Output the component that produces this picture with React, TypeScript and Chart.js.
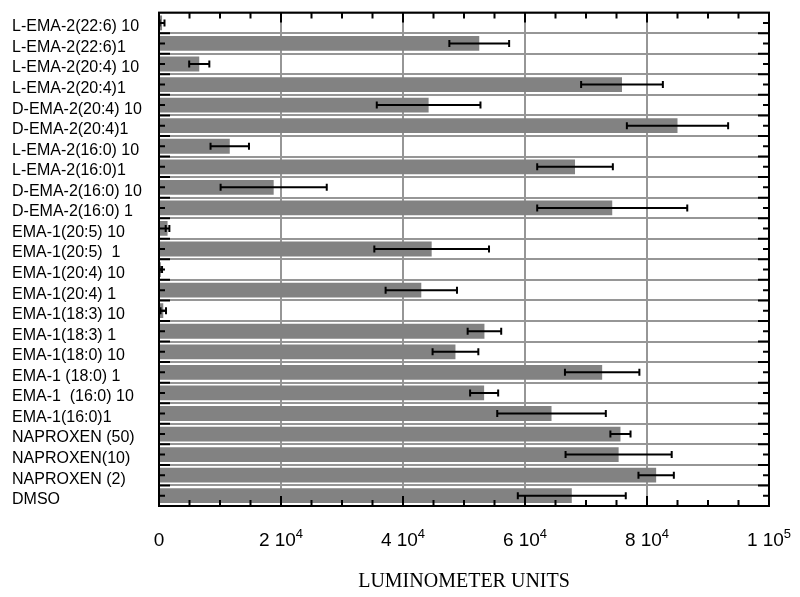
import React, { useEffect, useRef } from 'react';
import { Chart, registerables } from 'chart.js';

Chart.register(...registerables);

const categories = [
  'L-EMA-2(22:6) 10',
  'L-EMA-2(22:6)1',
  'L-EMA-2(20:4) 10',
  'L-EMA-2(20:4)1',
  'D-EMA-2(20:4) 10',
  'D-EMA-2(20:4)1',
  'L-EMA-2(16:0) 10',
  'L-EMA-2(16:0)1',
  'D-EMA-2(16:0) 10',
  'D-EMA-2(16:0) 1',
  'EMA-1(20:5) 10',
  'EMA-1(20:5)  1',
  'EMA-1(20:4) 10',
  'EMA-1(20:4) 1',
  'EMA-1(18:3) 10',
  'EMA-1(18:3) 1',
  'EMA-1(18:0) 10',
  'EMA-1 (18:0) 1',
  'EMA-1  (16:0) 10',
  'EMA-1(16:0)1',
  'NAPROXEN (50)',
  'NAPROXEN(10)',
  'NAPROXEN (2)',
  'DMSO',
];

const values = [
  500, 52500, 6600, 75900, 44200, 85000, 11600, 68200, 18800, 74300,
  1400, 44700, 300, 43000, 700, 53350, 48600, 72650, 53300, 64350,
  75650, 75350, 81500, 67670,
];

const errors = [
  400, 4900, 1650, 6700, 8500, 8300, 3150, 6200, 8700, 12300,
  300, 9400, 200, 5850, 450, 2750, 3750, 6100, 2300, 8900,
  1650, 8700, 2900, 8850,
];

const xTickValues = [0, 20000, 40000, 60000, 80000, 100000];
const xTickMantissa = ['0', '2 10', '4 10', '6 10', '8 10', '1 10'];
const xTickExponent = ['', '4', '4', '4', '4', '5'];
const xTitle = 'LUMINOMETER UNITS';

const GRID = 'rgb(150,150,150)';
const BAR = '#828282';
const SANS = '"Liberation Sans", Arial, sans-serif';
const SERIF = '"Liberation Serif", "Times New Roman", serif';

const decorPlugin = {
  id: 'decor',
  afterDatasetsDraw(chart: any) {
    const { ctx, chartArea: ca, scales } = chart;
    const x = scales.x;
    const y = scales.y;
    const meta = chart.getDatasetMeta(0);
    ctx.save();
    ctx.strokeStyle = '#000';
    ctx.lineWidth = 2;
    // error bars
    meta.data.forEach((el: any, i: number) => {
      const v = values[i];
      const e = errors[i];
      const x1 = x.getPixelForValue(Math.max(0, v - e));
      const x2 = x.getPixelForValue(v + e);
      const yy = el.y;
      ctx.beginPath();
      ctx.moveTo(x1, yy);
      ctx.lineTo(x2, yy);
      ctx.moveTo(x1, yy - 3.5);
      ctx.lineTo(x1, yy + 3.5);
      ctx.moveTo(x2, yy - 3.5);
      ctx.lineTo(x2, yy + 3.5);
      ctx.stroke();
    });
    // frame
    ctx.strokeRect(ca.left, ca.top, ca.right - ca.left, ca.bottom - ca.top);
    // x tick marks (inward, top & bottom)
    x.ticks.forEach((t: any) => {
      const px = x.getPixelForValue(t.value);
      const len = t.value % 20000 === 0 ? 10 : 6;
      ctx.beginPath();
      ctx.moveTo(px, ca.top);
      ctx.lineTo(px, ca.top + len);
      ctx.moveTo(px, ca.bottom);
      ctx.lineTo(px, ca.bottom - len);
      ctx.stroke();
    });
    // y tick marks (inward, left & right)
    for (let i = 0; i < categories.length; i++) {
      const c = y.getPixelForValue(i);
      const b = y.getPixelForValue(i + 0.5);
      ctx.beginPath();
      ctx.moveTo(ca.left, c);
      ctx.lineTo(ca.left + 6, c);
      ctx.moveTo(ca.right, c);
      ctx.lineTo(ca.right - 6, c);
      if (i < categories.length - 1) {
        ctx.moveTo(ca.left, b);
        ctx.lineTo(ca.left + 11, b);
        ctx.moveTo(ca.right, b);
        ctx.lineTo(ca.right - 11, b);
      }
      ctx.stroke();
    }
    ctx.restore();
  },
  afterDraw(chart: any) {
    const { ctx, chartArea: ca, scales } = chart;
    const x = scales.x;
    ctx.save();
    ctx.fillStyle = '#000';
    ctx.textBaseline = 'alphabetic';
    ctx.textAlign = 'left';
    const baseY = ca.bottom + 40;
    xTickValues.forEach((v, i) => {
      const px = x.getPixelForValue(v);
      const m = xTickMantissa[i];
      const ex = xTickExponent[i];
      ctx.font = `19px ${SANS}`;
      const wm = ctx.measureText(m).width;
      ctx.font = `13px ${SANS}`;
      const we = ex ? ctx.measureText(ex).width : 0;
      const start = px - (wm + we) / 2;
      ctx.font = `19px ${SANS}`;
      ctx.fillText(m, start, baseY);
      if (ex) {
        ctx.font = `13px ${SANS}`;
        ctx.fillText(ex, start + wm, baseY - 8);
      }
    });
    ctx.restore();
  },
};

export default function App() {
  const ref = useRef<HTMLCanvasElement>(null);
  useEffect(() => {
    if (!ref.current) return;
    const chart = new Chart(ref.current, {
      type: 'bar',
      data: {
        labels: categories,
        datasets: [
          {
            data: values,
            backgroundColor: BAR,
            borderWidth: 0,
            barPercentage: 0.72,
            categoryPercentage: 1,
          },
        ],
      },
      options: {
        indexAxis: 'y',
        animation: false,
        responsive: false,
        layout: { padding: { left: 12, top: 12, right: 31, bottom: 0 } },
        plugins: { legend: { display: false }, tooltip: { enabled: false } },
        scales: {
          x: {
            type: 'linear',
            min: 0,
            max: 100000,
            border: { display: false },
            ticks: { stepSize: 5000, autoSkip: false, display: false },
            grid: {
              drawTicks: false,
              lineWidth: 2,
              color: (c: any) =>
                c.tick && c.tick.value % 20000 === 0 ? GRID : 'rgba(0,0,0,0)',
            },
            title: {
              display: true,
              text: xTitle,
              color: '#000',
              font: { family: SERIF, size: 20 },
              padding: { top: 0, bottom: 3 },
            },
            afterFit: (s: any) => {
              s.height = 91;
            },
          },
          y: {
            type: 'category',
            border: { display: false },
            grid: { drawTicks: false, lineWidth: 2, color: GRID, offset: true },
            ticks: {
              crossAlign: 'far',
              color: '#000',
              font: { family: SANS, size: 16 },
              labelOffset: 4,
              autoSkip: false,
            },
            afterFit: (s: any) => {
              s.width = 147;
            },
          },
        },
      },
      plugins: [decorPlugin],
    } as any);
    return () => chart.destroy();
  }, []);
  return (
    <div style={{ position: 'fixed', left: 0, top: 0, width: 800, height: 597, background: '#fff' }}>
      <canvas ref={ref} width={800} height={597} />
    </div>
  );
}
